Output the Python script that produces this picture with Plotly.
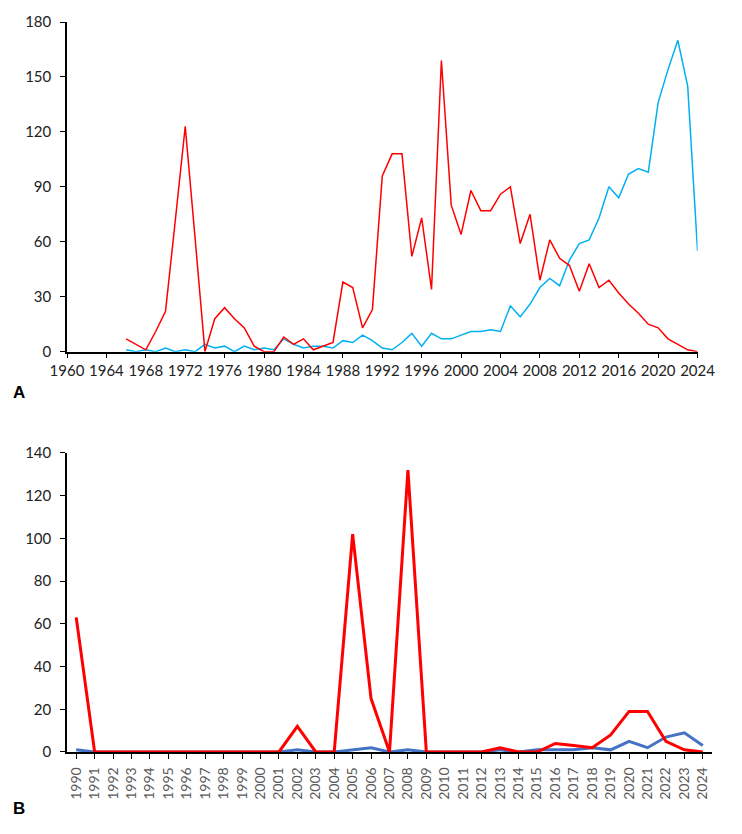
import plotly.graph_objects as go

# panel A: yearly counts 1966-2024
years_a = list(range(1966, 2025))
red_a = [7, 4, 1, 11, 22, 72, 123, 62, 0, 18, 24, 18, 13, 3, 0, 0, 8, 4, 7, 1,
         3, 5, 38, 35, 13, 23, 96, 108, 108, 52, 73, 34, 159, 80, 64, 88, 77, 77, 86, 90,
         59, 75, 39, 61, 51, 47, 33, 48, 35, 39, 32, 26, 21, 15, 13, 7, 4, 1, 0]
blue_a = [1, 0, 1, 0, 2, 0, 1, 0, 4, 2, 3, 0, 3, 1, 2, 1, 7, 4, 2, 3,
          3, 2, 6, 5, 9, 6, 2, 1, 5, 10, 3, 10, 7, 7, 9, 11, 11, 12, 11, 25,
          19, 26, 35, 40, 36, 50, 59, 61, 73, 90, 84, 97, 100, 98, 136, 154, 170, 145, 55]

# panel B: yearly counts 1990-2024
years_b = [str(y) for y in range(1990, 2025)]
red_b = [63, 0, 0, 0, 0, 0, 0, 0, 0, 0, 0, 0, 12, 0, 0, 102, 25, 0, 132, 0,
         0, 0, 0, 2, 0, 0, 4, 3, 2, 8, 19, 19, 5, 1, 0]
blue_b = [1, 0, 0, 0, 0, 0, 0, 0, 0, 0, 0, 0, 1, 0, 0, 1, 2, 0, 1, 0,
          0, 0, 0, 1, 0, 1, 1, 1, 2, 1, 5, 2, 7, 9, 3]

font = dict(family="Lato, Open Sans, sans-serif", size=15, color="#222222")

# a little short of the window so no scrollbar shows up
W, H = 742, 826
ML, MR, MT = 67, 19, 19
MB = H - 752

fig = go.Figure()

fig.add_trace(go.Scatter(x=years_a, y=blue_a, mode="lines",
                         line=dict(color="#00B0F0", width=1.5),
                         xaxis="x", yaxis="y", showlegend=False))
fig.add_trace(go.Scatter(x=years_a, y=red_a, mode="lines",
                         line=dict(color="#FF0000", width=1.5),
                         xaxis="x", yaxis="y", showlegend=False))

fig.add_trace(go.Scatter(x=years_b, y=blue_b, mode="lines",
                         line=dict(color="#4472C4", width=3),
                         xaxis="x2", yaxis="y2", showlegend=False))
fig.add_trace(go.Scatter(x=years_b, y=red_b, mode="lines",
                         line=dict(color="#FF0000", width=3),
                         xaxis="x2", yaxis="y2", showlegend=False))

axis_common = dict(showgrid=False, zeroline=False, showline=True,
                   linecolor="black", linewidth=1.5, ticks="outside",
                   ticklen=5, tickcolor="black", tickfont=font)

plot_w = W - ML - MR
plot_h = H - MT - MB

def px_x(px):
    return (px - ML) / plot_w

def px_y(py):
    return (H - MB - py) / plot_h

fig.update_layout(
    width=W, height=H,
    paper_bgcolor="white", plot_bgcolor="white",
    margin=dict(l=ML, r=MR, t=MT, b=MB),
    font=font,
    xaxis=dict(axis_common, domain=[0, px_x(708.3)], anchor="y",
               range=[1960, 2024], tickmode="linear", tick0=1960, dtick=4),
    yaxis=dict(axis_common, domain=[px_y(350), 1], anchor="x",
               range=[0, 180], tickmode="linear", tick0=0, dtick=30,
               ticklabelstandoff=6),
    xaxis2=dict(axis_common, domain=[0, 1], anchor="y2",
                type="category", range=[-0.5, 34.5], tickangle=-90,
                ticklabelstandoff=3,
                tickfont=dict(family="Lato, Open Sans, sans-serif", size=14, color="#595959")),
    yaxis2=dict(axis_common, domain=[0, px_y(451.7)], anchor="x2",
                range=[0, 140], tickmode="linear", tick0=0, dtick=20,
                ticklabelstandoff=6),
)

for label, (px, py) in [("A", (18.5, 391)), ("B", (18, 809))]:
    fig.add_annotation(text="<b>%s</b>" % label, x=px_x(px), y=px_y(py),
                       xref="paper", yref="paper", xanchor="center", yanchor="middle",
                       showarrow=False,
                       font=dict(family="Liberation Sans, Arial", size=17, color="black"))

# drop the default body margin so the figure sits flush in the window
fig.write_html("out.html", config={"displayModeBar": False},
               post_script="document.body.style.margin='0';")
